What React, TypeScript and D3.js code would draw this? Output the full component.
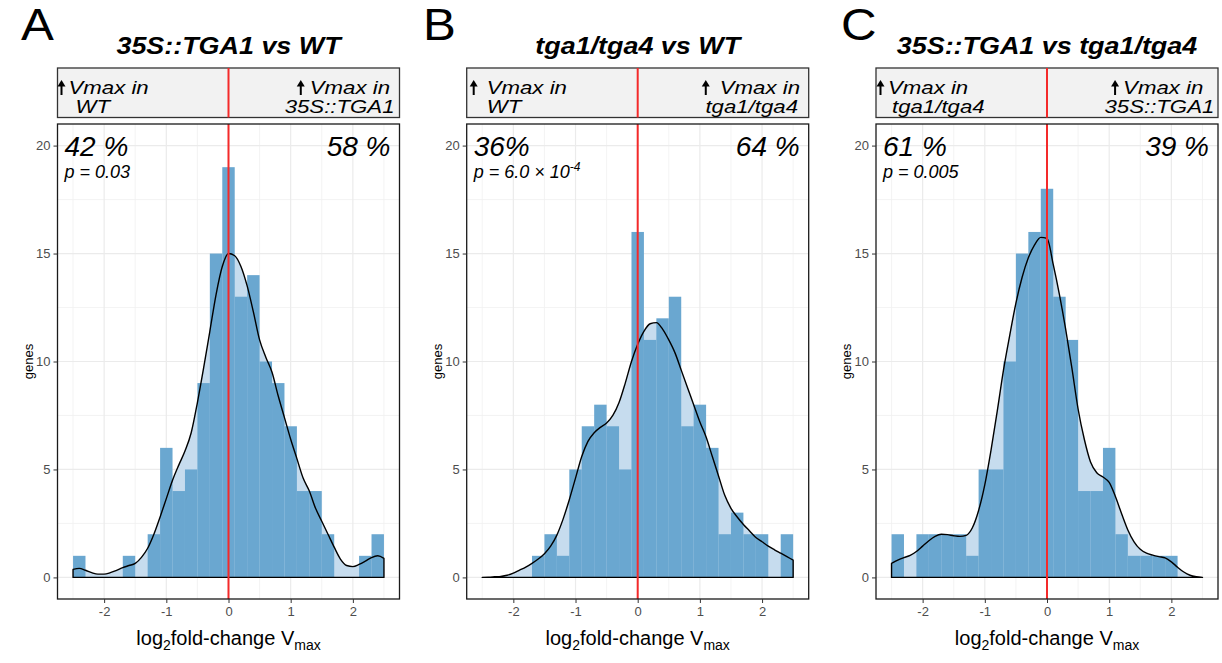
import React, { useRef, useEffect } from 'react';
import * as d3 from 'd3';

// histogram bins (width 0.2)
const binCenters = [
  -2.4, -2.2, -2.0, -1.8, -1.6, -1.4, -1.2, -1.0, -0.8, -0.6, -0.4, -0.2, 0,
  0.2, 0.4, 0.6, 0.8, 1.0, 1.2, 1.4, 1.6, 1.8, 2.0, 2.2, 2.4,
];

const countsA = [1, 0, 0, 0, 1, 0, 2, 6, 4, 5, 9, 15, 19, 13, 14, 10, 9, 7, 4, 4, 2, 0, 0, 1, 2];
const countsB = [0, 0, 0, 0, 1, 2, 1, 5, 7, 8, 7, 5, 16, 11, 12, 13, 7, 8, 6, 2, 3, 2, 2, 0, 2];
const countsC = [2, 0, 2, 2, 2, 2, 1, 5, 5, 10, 15, 16, 18, 13, 11, 4, 4, 6, 2, 1, 1, 1, 1, 0, 0];

// density curve (scaled to counts), read at these x positions
const densityX = [
  -2.5, -2.4, -2.3, -2.2, -2.1, -2.0, -1.9, -1.8, -1.7, -1.6,
  -1.5, -1.4, -1.3, -1.2, -1.1, -1.0, -0.9, -0.8, -0.7, -0.6,
  -0.5, -0.4, -0.3, -0.2, -0.1, 0,
  0.1, 0.2, 0.3, 0.4, 0.5, 0.6, 0.7, 0.8, 0.9, 1.0,
  1.1, 1.2, 1.3, 1.4, 1.5, 1.6, 1.7, 1.8, 1.9, 2.0,
  2.1, 2.2, 2.3, 2.4, 2.5,
];

const densityA = [
  0.37, 0.42, 0.33, 0.22, 0.15, 0.15, 0.22, 0.33, 0.45, 0.55,
  0.65, 0.93, 1.35, 2.0, 2.8, 3.65, 4.5, 5.2, 5.85, 6.7,
  8.1, 9.7, 11.4, 13.1, 14.4, 15.0,
  14.9, 14.4, 13.5, 12.3, 11.0, 10.2, 9.5, 8.4, 7.4, 6.4,
  5.5, 4.6, 4.0, 3.2, 2.6, 2.0, 1.4, 0.85, 0.55, 0.5,
  0.6, 0.75, 0.92, 1.0, 0.88,
];
const densityB = [
  0.0, 0.01, 0.03, 0.05, 0.1, 0.2, 0.34, 0.48, 0.65, 0.85,
  1.1, 1.45, 1.96, 2.7, 3.6, 4.6, 5.6, 6.3, 6.7, 6.95,
  7.15, 7.5, 8.1, 9.0, 10.0, 10.8,
  11.4, 11.75, 11.8, 11.5, 11.0, 10.4, 9.6, 8.8, 8.0, 7.2,
  6.5, 5.6, 4.7, 3.8, 3.2, 2.8, 2.45, 2.15, 1.85, 1.65,
  1.45, 1.28, 1.12, 0.96, 0.8,
];
const densityC = [
  0.65, 0.8, 0.92, 1.02, 1.2, 1.45, 1.7, 1.9, 2.0, 1.98,
  1.93, 1.9, 1.95, 2.3, 3.1, 4.3, 5.9, 7.7, 9.6, 11.2,
  12.7, 13.9, 14.8, 15.4, 15.75, 15.7,
  14.5, 13.1, 11.5, 9.7, 7.8, 6.4, 5.35, 4.85, 4.65, 4.4,
  3.75, 2.95, 2.2, 1.65, 1.3, 1.12, 1.03, 0.96, 0.9, 0.72,
  0.47, 0.25, 0.1, 0.03, 0.0,
];

const panelLetters = ['A', 'B', 'C'];
const titles = ['35S::TGA1 vs WT', 'tga1/tga4 vs WT', '35S::TGA1 vs tga1/tga4'];
const stripLeft = [['Vmax in', 'WT'], ['Vmax in', 'WT'], ['Vmax in', 'tga1/tga4']];
const stripRight = [['Vmax in', '35S::TGA1'], ['Vmax in', 'tga1/tga4'], ['Vmax in', '35S::TGA1']];
const pctLeft = ['42 %', '36%', '61 %'];
const pctRight = ['58 %', '64 %', '39 %'];
const pText = ['p = 0.03', 'p = 6.0 × 10', 'p = 0.005'];
const pExp = ['', '-4', ''];

const xTicks = [-2, -1, 0, 1, 2];
const xMinor = [-2.5, -1.5, -0.5, 0.5, 1.5, 2.5];
const yTicks = [0, 5, 10, 15, 20];
const yMinor = [2.5, 7.5, 12.5, 17.5];

const W = 1222;
const H = 663;
const PW = 342;
const TOP = 124;
const BOTTOM = 599;
const FONT = '"Liberation Sans", Arial, Helvetica, sans-serif';
const STRETCH = 1.17; // title/strip text look horizontally stretched

// per-panel placement of strip texts
const layout = [
  { left: 57.5, letterX: 21, letterY: 40, titleY: 54, lArrow: 4, l1: 11, l2: 18, r1: 9.5, rGap: 9, r2: 5 },
  { left: 466.7, letterX: 423, letterY: 40, titleY: 54, lArrow: 7, l1: 20, l2: 20, r1: 8.7, rGap: 14, r2: 10.7 },
  { left: 876, letterX: 841, letterY: 40, titleY: 54, lArrow: 4.5, l1: 12, l2: 16, r1: 14.7, rGap: 8, r2: 3.7 },
];

const panelCounts = [countsA, countsB, countsC];
const panelDensity = [densityA, densityB, densityC];

function drawArrow(g, cx, top, bottom) {
  g.append('line')
    .attr('x1', cx).attr('x2', cx)
    .attr('y1', top + 5).attr('y2', bottom)
    .attr('stroke', '#000').attr('stroke-width', 2);
  g.append('path')
    .attr('d', `M${cx - 4},${top + 6.5}L${cx},${top}L${cx + 4},${top + 6.5}Z`)
    .attr('fill', '#000');
}

function stretchedText(g, x, y, txt, size, anchor, weight = 'normal') {
  return g.append('text')
    .attr('transform', `translate(${x},${y}) scale(${STRETCH},1)`)
    .attr('text-anchor', anchor)
    .attr('font-family', FONT)
    .attr('font-size', size)
    .attr('font-style', 'italic')
    .attr('font-weight', weight)
    .attr('fill', '#000')
    .text(txt);
}

function drawPanel(svg, i) {
  const L = layout[i];
  const left = L.left;
  const right = left + PW;
  const counts = panelCounts[i];
  const dens = densityX.map((d, k) => [d, panelDensity[i][k]]);

  const x = d3.scaleLinear().domain([-2.75, 2.75]).range([left, right]);
  const y = d3.scaleLinear().domain([-1, 21]).range([BOTTOM, TOP]);

  const g = svg.append('g');

  g.append('rect')
    .attr('x', left).attr('y', TOP)
    .attr('width', PW).attr('height', BOTTOM - TOP)
    .attr('fill', '#fff');

  // grid
  g.selectAll('.xminor').data(xMinor).enter().append('line')
    .attr('x1', (d) => x(d)).attr('x2', (d) => x(d))
    .attr('y1', TOP).attr('y2', BOTTOM)
    .attr('stroke', '#F0F0F0').attr('stroke-width', 0.8);
  g.selectAll('.yminor').data(yMinor).enter().append('line')
    .attr('x1', left).attr('x2', right)
    .attr('y1', (d) => y(d)).attr('y2', (d) => y(d))
    .attr('stroke', '#F0F0F0').attr('stroke-width', 0.8);
  g.selectAll('.xmajor').data(xTicks).enter().append('line')
    .attr('x1', (d) => x(d)).attr('x2', (d) => x(d))
    .attr('y1', TOP).attr('y2', BOTTOM)
    .attr('stroke', '#EBEBEB').attr('stroke-width', 1.2);
  g.selectAll('.ymajor').data(yTicks).enter().append('line')
    .attr('x1', left).attr('x2', right)
    .attr('y1', (d) => y(d)).attr('y2', (d) => y(d))
    .attr('stroke', '#EBEBEB').attr('stroke-width', 1.2);

  // area under density
  const area = d3.area()
    .x((d) => x(d[0]))
    .y0(y(0))
    .y1((d) => y(d[1]))
    .curve(d3.curveMonotoneX);
  g.append('path').attr('d', area(dens)).attr('fill', '#C6DCEE');

  // histogram
  g.selectAll('.bar')
    .data(binCenters.map((c, k) => ({ c, n: counts[k] })).filter((d) => d.n > 0))
    .enter()
    .append('rect')
    .attr('x', (d) => x(d.c - 0.1))
    .attr('width', (d) => x(d.c + 0.1) - x(d.c - 0.1))
    .attr('y', (d) => y(d.n))
    .attr('height', (d) => y(0) - y(d.n))
    .attr('fill', '#6AA7D0');

  // density outline
  const line = d3.line().x((d) => x(d[0])).y((d) => y(d[1])).curve(d3.curveMonotoneX);
  const x0 = dens[0][0];
  const x1 = dens[dens.length - 1][0];
  g.append('path')
    .attr('d', `${line(dens)}L${x(x1)},${y(0)}L${x(x0)},${y(0)}Z`)
    .attr('fill', 'none')
    .attr('stroke', '#000')
    .attr('stroke-width', 1.4)
    .attr('stroke-linejoin', 'round');

  // vertical line at 0
  g.append('line')
    .attr('x1', x(0)).attr('x2', x(0))
    .attr('y1', TOP).attr('y2', BOTTOM)
    .attr('stroke', '#F42A2A').attr('stroke-width', 2);

  g.append('rect')
    .attr('x', left).attr('y', TOP)
    .attr('width', PW).attr('height', BOTTOM - TOP)
    .attr('fill', 'none')
    .attr('stroke', '#1a1a1a').attr('stroke-width', 1.3);

  // axes
  const yAxis = g.append('g')
    .attr('transform', `translate(${left},0)`)
    .call(d3.axisLeft(y).tickValues(yTicks).tickSize(4).tickPadding(3));
  yAxis.select('.domain').remove();
  yAxis.selectAll('line').attr('stroke', '#333');
  yAxis.selectAll('text').attr('font-size', 13).attr('font-family', FONT).attr('fill', '#4D4D4D');

  const xAxis = g.append('g')
    .attr('transform', `translate(0,${BOTTOM})`)
    .call(d3.axisBottom(x).tickValues(xTicks).tickSize(4).tickPadding(4).tickFormat((d) => String(d)));
  xAxis.select('.domain').remove();
  xAxis.selectAll('line').attr('stroke', '#333');
  xAxis.selectAll('text').attr('font-size', 13).attr('font-family', FONT).attr('fill', '#4D4D4D');

  g.append('text')
    .attr('transform', `translate(${left - 25},${(TOP + BOTTOM) / 2}) rotate(-90)`)
    .attr('text-anchor', 'middle')
    .attr('font-family', FONT)
    .attr('font-size', 13)
    .text('genes');

  const xt = g.append('text')
    .attr('x', (left + right) / 2)
    .attr('y', 645)
    .attr('text-anchor', 'middle')
    .attr('font-family', FONT)
    .attr('font-size', 20);
  xt.append('tspan').text('log');
  xt.append('tspan').attr('dy', 5).attr('font-size', 14).text('2');
  xt.append('tspan').attr('dy', -5).text('fold-change V');
  xt.append('tspan').attr('dy', 5).attr('font-size', 14).text('max');

  // annotations
  g.append('text')
    .attr('x', left + 7).attr('y', 155.5)
    .attr('font-family', FONT).attr('font-size', 28).attr('font-style', 'italic')
    .text(pctLeft[i]);
  g.append('text')
    .attr('x', right - 9).attr('y', 155.5)
    .attr('text-anchor', 'end')
    .attr('font-family', FONT).attr('font-size', 28).attr('font-style', 'italic')
    .text(pctRight[i]);
  const pt = g.append('text')
    .attr('x', left + 7).attr('y', 178)
    .attr('font-family', FONT).attr('font-size', 18).attr('font-style', 'italic')
    .text(pText[i]);
  if (pExp[i]) {
    pt.append('tspan').attr('dy', -7).attr('font-size', 12).text(pExp[i]);
  }

  // strip
  const sTop = 68;
  const sBot = 117.5;
  g.append('rect')
    .attr('x', left).attr('y', sTop)
    .attr('width', PW).attr('height', sBot - sTop)
    .attr('fill', '#F2F2F2')
    .attr('stroke', '#333').attr('stroke-width', 1.3);
  g.append('line')
    .attr('x1', x(0)).attr('x2', x(0))
    .attr('y1', sTop).attr('y2', sBot)
    .attr('stroke', '#F42A2A').attr('stroke-width', 2);

  const line1Y = 94;
  const line2Y = 113;
  drawArrow(g, left + L.lArrow, 80, 95);
  stretchedText(g, left + L.l1, line1Y, stripLeft[i][0], 19, 'start');
  stretchedText(g, left + L.l2, line2Y, stripLeft[i][1], 19, 'start');

  const r1 = stretchedText(g, right - L.r1, line1Y, stripRight[i][0], 19, 'end');
  const w1 = r1.node().getComputedTextLength() * STRETCH;
  drawArrow(g, right - L.r1 - w1 - L.rGap, 80, 95);
  stretchedText(g, right - L.r2, line2Y, stripRight[i][1], 19, 'end');

  // title and letter
  stretchedText(g, (left + right) / 2, L.titleY, titles[i], 23, 'middle', 'bold');
  g.append('text')
    .attr('transform', `translate(${L.letterX},${L.letterY}) scale(1.12,1)`)
    .attr('font-family', FONT)
    .attr('font-size', 44)
    .text(panelLetters[i]);
}

export default function App() {
  const svgRef = useRef(null);

  useEffect(() => {
    const svg = d3.select(svgRef.current);
    svg.selectAll('*').remove();
    svg.append('rect').attr('width', W).attr('height', H).attr('fill', '#fff');
    for (let i = 0; i < 3; i += 1) {
      drawPanel(svg, i);
    }
  }, []);

  return (
    <svg
      ref={svgRef}
      width={W}
      height={H}
      style={{ position: 'absolute', left: 0, top: 0, display: 'block' }}
    />
  );
}
